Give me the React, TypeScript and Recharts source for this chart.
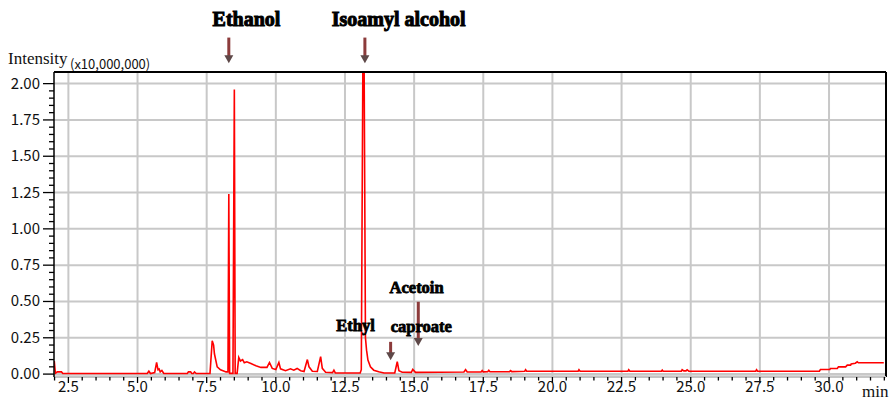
import { LineChart, Line, XAxis, YAxis, ReferenceLine, ReferenceArea, ReferenceDot } from 'recharts';

// retention time (min) and intensity (x10,000,000)
const retentionTimes = [
  1.99, 2.03, 2.1, 2.25, 2.3, 5.35, 5.41, 5.47, 5.62, 5.69, 5.74, 5.78, 5.82, 5.88, 5.95,
  6.8, 6.84, 6.92, 6.96, 7.02, 7.06, 7.12, 7.62, 7.7, 7.75, 7.78, 7.88, 8.0, 8.2, 8.27,
  8.3, 8.33, 8.45, 8.5, 8.53, 8.6, 8.66, 8.72, 8.8, 8.86, 8.95, 9.1, 9.28, 9.46, 9.68,
  9.77, 9.87, 10.0, 10.11, 10.17, 10.35, 10.53, 10.65, 10.77, 10.9, 11.02, 11.14, 11.2, 11.32, 11.5,
  11.62, 11.68, 11.8, 12.05, 12.1, 12.15, 13.05, 13.09, 13.17, 13.24, 13.28, 13.33, 13.42, 13.54, 13.72,
  13.91, 14.3, 14.39, 14.45, 14.57, 14.9, 14.95, 15.05, 16.8, 16.86, 16.92, 17.42, 17.46, 17.5, 17.66,
  17.7, 17.74, 18.45, 18.49, 18.53, 19.0, 19.03, 19.07, 20.93, 20.96, 21.0, 22.73, 22.76, 22.8, 23.94,
  23.97, 24.0, 24.66, 24.69, 24.75, 24.83, 24.87, 24.93, 27.35, 27.38, 27.42, 29.65, 29.69, 30.03, 30.05,
  30.3, 30.34, 30.6, 30.66, 30.78, 30.8, 30.95, 31.02, 31.06, 31.98,
];
const intensities = [
  0.09, 0.005, 0.015, 0.015, 0.004, 0.004, 0.02, 0.004, 0.01, 0.08, 0.03, 0.035, 0.015, 0.025, 0.004,
  0.004, 0.015, 0.015, 0.004, 0.004, 0.015, 0.004, 0.005, 0.23, 0.2, 0.14, 0.05, 0.03, 0.015, 0.015,
  1.24, 0.005, 0.005, 1.96, 0.005, 0.005, 0.115, 0.09, 0.1, 0.078, 0.085, 0.073, 0.057, 0.046, 0.046,
  0.08, 0.039, 0.032, 0.08, 0.036, 0.023, 0.036, 0.027, 0.039, 0.023, 0.018, 0.1, 0.05, 0.02, 0.018,
  0.12, 0.04, 0.013, 0.01, 0.027, 0.008, 0.008, 0.03, 3.0, 0.25, 0.165, 0.096, 0.05, 0.027, 0.016,
  0.008, 0.008, 0.085, 0.023, 0.013, 0.012, 0.032, 0.012, 0.014, 0.03, 0.014, 0.015, 0.025, 0.015, 0.016,
  0.026, 0.016, 0.017, 0.024, 0.017, 0.02, 0.03, 0.02, 0.02, 0.03, 0.02, 0.02, 0.03, 0.02, 0.02,
  0.028, 0.02, 0.02, 0.03, 0.022, 0.022, 0.03, 0.02, 0.02, 0.03, 0.02, 0.02, 0.032, 0.032, 0.039,
  0.039, 0.05, 0.05, 0.062, 0.062, 0.069, 0.075, 0.085, 0.078, 0.078,
];

const xMajorTicks = [2.5, 5.0, 7.5, 10.0, 12.5, 15.0, 17.5, 20.0, 22.5, 25.0, 27.5, 30.0];
const yMajorTicks = [0, 0.25, 0.5, 0.75, 1.0, 1.25, 1.5, 1.75, 2.0];

// minor ticks: every 0.5 min and every 0.05 intensity
const xAllTicks = Array.from({ length: 61 }, (_, i) => +(2 + i * 0.5).toFixed(1));
const yAllTicks = Array.from({ length: 41 }, (_, i) => +(i * 0.05).toFixed(2));

// annotation arrows: time, tip value, tail value
const arrowTimes = [8.3, 13.22, 14.15, 15.15];
const arrowTips = [2.14, 2.14, 0.096, 0.193];
const arrowTails = [2.317, 2.317, 0.222, 0.498];

// annotation labels
const labelTexts = ['Ethanol', 'Isoamyl alcohol', 'Ethyl', 'caproate', 'Acetoin'];
const labelTimes = [8.94, 14.44, 12.88, 15.26, 15.09];
const labelValues = [2.4, 2.4, 0.296, 0.291, 0.555];

const data = retentionTimes.map((t, i) => ({ t, v: intensities[i] }));

const tickFont = '"Noto Sans CJK JP", "Noto Sans", sans-serif';
const serif = '"Liberation Serif", "Times New Roman", serif';

const YTick = (props: any) => {
  const { x, y, payload } = props;
  const v = payload.value;
  const major = yMajorTicks.includes(v);
  const axisX = x + 14;
  return (
    <g>
      <line x1={axisX - (major ? 11 : 5)} x2={axisX} y1={y} y2={y} stroke="#000" strokeWidth={1.3} />
      {major && (
        <text x={x} y={y} dy={5} textAnchor="end" fontFamily={tickFont} fontSize={15} fill="#111">
          {v.toFixed(2)}
        </text>
      )}
    </g>
  );
};

const XTick = (props: any) => {
  const { x, y, payload } = props;
  const v = payload.value;
  const major = xMajorTicks.includes(v);
  const axisY = y - 8;
  return (
    <g>
      <line x1={x} x2={x} y1={axisY} y2={axisY + (major ? 6 : 3.5)} stroke="#000" strokeWidth={1.3} />
      {major && (
        <text x={x} y={axisY + 15} textAnchor="middle" fontFamily={tickFont} fontSize={15} fill="#111">
          {v.toFixed(1)}
        </text>
      )}
    </g>
  );
};

const Arrow = (props: any) => {
  const { x1, y1, x2, y2 } = props;
  const top = Math.min(y1, y2);
  const tip = Math.max(y1, y2);
  const x = x1 ?? x2;
  return (
    <g>
      <rect x={x - 1.5} y={top} width={3} height={tip - top - 7} fill="#8c3b3b" />
      <polygon points={`${x - 4.5},${tip - 8} ${x + 4.5},${tip - 8} ${x},${tip}`} fill="#5e4848" />
    </g>
  );
};

const makeLabel = (text: string, big: boolean) => (props: any) => (
  <text
    x={props.cx}
    y={props.cy}
    textAnchor="middle"
    fontFamily={serif}
    fontWeight="bold"
    fontSize={big ? 20 : 16.5}
    fill="#000"
    stroke="#000"
    strokeWidth={big ? 1 : 0.8}
  >
    {text}
  </text>
);

export default function App() {
  return (
    <div style={{ position: 'absolute', left: 0, top: 0, width: 892, height: 401, background: '#fff' }}>
      <LineChart width={892} height={401} data={data} margin={{ top: 72, right: 6, left: 0, bottom: 0 }}>
        <XAxis
          dataKey="t"
          type="number"
          domain={[1.98, 32.06]}
          allowDataOverflow
          ticks={xAllTicks}
          interval={0}
          tick={<XTick />}
          tickLine={false}
          tickSize={6}
          tickMargin={2}
          height={24}
          axisLine={{ stroke: '#c4c4c4', strokeWidth: 2 }}
        />
        <YAxis
          type="number"
          domain={[-0.02, 2.08]}
          allowDataOverflow
          ticks={yAllTicks}
          interval={0}
          tick={<YTick />}
          tickLine={false}
          tickSize={10}
          tickMargin={4}
          width={54}
          axisLine={{ stroke: '#000', strokeWidth: 1.5 }}
        />
        <ReferenceArea y1={-0.02} y2={0} fill="#d8d8d8" fillOpacity={1} stroke="none" />
        {xMajorTicks.map((t) => (
          <ReferenceLine key={'gx' + t} x={t} stroke="#c8c8c8" strokeWidth={2} />
        ))}
        {yMajorTicks.map((v) => (
          <ReferenceLine key={'gy' + v} y={v} stroke="#c8c8c8" strokeWidth={2} />
        ))}
        <Line
          dataKey="v"
          type="linear"
          stroke="#ff0000"
          strokeWidth={1.6}
          dot={false}
          isAnimationActive={false}
        />
        <ReferenceLine y={2.08} stroke="#000" strokeWidth={2} />
        <ReferenceLine x={32.06} stroke="#000" strokeWidth={2} />
        {labelTexts.map((text, i) => (
          <ReferenceDot
            key={'l' + i}
            x={labelTimes[i]}
            y={labelValues[i]}
            r={1}
            ifOverflow="visible"
            shape={makeLabel(text, i < 2)}
          />
        ))}
        {arrowTimes.map((t, i) => (
          <ReferenceLine
            key={'a' + i}
            segment={[
              { x: t, y: arrowTails[i] },
              { x: t, y: arrowTips[i] },
            ]}
            ifOverflow="visible"
            shape={<Arrow />}
          />
        ))}
      </LineChart>
      <svg width={892} height={401} style={{ position: 'absolute', left: 0, top: 0, pointerEvents: 'none' }}>
        <text x={8} y={64} fontFamily={serif} fontSize={17} fill="#111">Intensity</text>
        <text x={70} y={69} fontFamily={tickFont} fontSize={13} fill="#111">(x10,000,000)</text>
        <text x={862} y={397} fontFamily={serif} fontSize={17} fill="#111">min</text>
      </svg>
    </div>
  );
}
